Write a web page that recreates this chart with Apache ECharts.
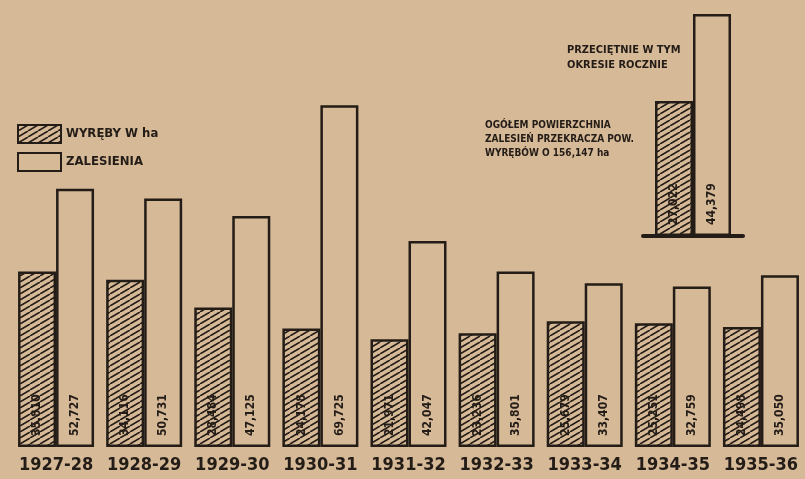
<!DOCTYPE html>
<html>
<head>
<meta charset="utf-8">
<script src="https://cdn.jsdelivr.net/npm/echarts@6/dist/echarts.min.js"></script>
<style>
  html, body { margin: 0; padding: 0; background: #d6b997; }
  #chart { width: 805px; height: 479px; }
</style>
</head>
<body>
<div id="chart"></div>
<script>
var years = ["1927-28", "1928-29", "1929-30", "1930-31", "1931-32", "1932-33", "1933-34", "1934-35", "1935-36"];
var wyreby = [35810, 34116, 28484, 24178, 21971, 23236, 25679, 25251, 24498];
var zalesienia = [52727, 50731, 47125, 69725, 42047, 35801, 33407, 32759, 35050];
// srednio rocznie (inset)
var avgWyreby = [27022];
var avgZalesienia = [44379];

var PAPER = "#d6b997";
var INK = "#231c17";
var FONT = '"DejaVu Sans Condensed", "DejaVu Sans", sans-serif';

function hatch() {
  var c = document.createElement("canvas");
  c.width = 10;
  c.height = 6;
  var ctx = c.getContext("2d");
  ctx.fillStyle = PAPER;
  ctx.fillRect(0, 0, 10, 6);
  ctx.strokeStyle = INK;
  ctx.lineWidth = 1.6;
  for (var k = -1; k <= 1; k++) {
    ctx.beginPath();
    ctx.moveTo(k * 10, 6);
    ctx.lineTo(k * 10 + 10, 0);
    ctx.stroke();
  }
  return { image: c, repeat: "repeat" };
}

function fmt(p) {
  return p.value.toLocaleString("en-US");
}

var valueLabel = {
  show: true,
  position: "insideBottom",
  rotate: 90,
  align: "left",
  verticalAlign: "middle",
  distance: 11,
  fontSize: 12,
  fontWeight: "bold",
  fontFamily: FONT,
  color: INK,
  formatter: fmt
};

var hatchStyle = { color: hatch(), borderColor: INK, borderWidth: 2.5 };
var plainStyle = { color: PAPER, borderColor: INK, borderWidth: 2.5 };

var myChart = echarts.init(document.getElementById("chart"));
var option = {
  backgroundColor: PAPER,
  animation: false,
  grid: [
    { left: 12, width: 800, top: 55, bottom: 32 },
    { left: 643, width: 100, top: 8, height: 228 }
  ],
  legend: {
    data: ["WYRĘBY W ha", "ZALESIENIA"],
    orient: "vertical",
    left: 12,
    top: 119,
    icon: "rect",
    itemWidth: 43,
    itemHeight: 18,
    itemGap: 8,
    selectedMode: false,
    textStyle: { color: INK, fontFamily: FONT, fontWeight: "bold", fontSize: 13 }
  },
  xAxis: [
    {
      type: "category",
      gridIndex: 0,
      data: years,
      axisLine: { show: false },
      axisTick: { show: false },
      axisLabel: { interval: 0, color: INK, fontFamily: FONT, fontWeight: "bold", fontSize: 18, margin: 9 }
    },
    {
      type: "category",
      gridIndex: 1,
      data: ["przeciętnie"],
      axisLine: { lineStyle: { color: INK, width: 4 } },
      axisTick: { show: false },
      axisLabel: { show: false }
    }
  ],
  yAxis: [
    { type: "value", gridIndex: 0, min: 0, max: 80000, show: false },
    { type: "value", gridIndex: 1, min: 0, max: 45600, show: false }
  ],
  series: [
    {
      name: "WYRĘBY W ha",
      type: "bar",
      data: wyreby,
      barWidth: 38,
      barGap: "0%",
      itemStyle: hatchStyle,
      label: valueLabel
    },
    {
      name: "ZALESIENIA",
      type: "bar",
      data: zalesienia,
      barWidth: 38,
      barGap: "0%",
      itemStyle: plainStyle,
      label: valueLabel
    },
    {
      name: "przeciętnie wyręby",
      type: "bar",
      xAxisIndex: 1,
      yAxisIndex: 1,
      data: avgWyreby,
      barWidth: 38,
      barGap: "0%",
      itemStyle: hatchStyle,
      label: valueLabel
    },
    {
      name: "przeciętnie zalesienia",
      type: "bar",
      xAxisIndex: 1,
      yAxisIndex: 1,
      data: avgZalesienia,
      barWidth: 38,
      barGap: "0%",
      itemStyle: plainStyle,
      label: valueLabel
    }
  ],
  graphic: [
    {
      type: "text",
      left: 567,
      top: 43,
      style: {
        text: "PRZECIĘTNIE W TYM\nOKRESIE ROCZNIE",
        font: "bold 11px " + FONT,
        fill: INK,
        lineHeight: 15
      }
    },
    {
      type: "text",
      left: 485,
      top: 118,
      style: {
        text: "OGÓŁEM POWIERZCHNIA\nZALESIEŃ PRZEKRACZA POW.\nWYRĘBÓW O 156,147 ha",
        font: "bold 10px " + FONT,
        fill: INK,
        lineHeight: 14
      }
    }
  ]
};
myChart.setOption(option);
</script>
</body>
</html>
